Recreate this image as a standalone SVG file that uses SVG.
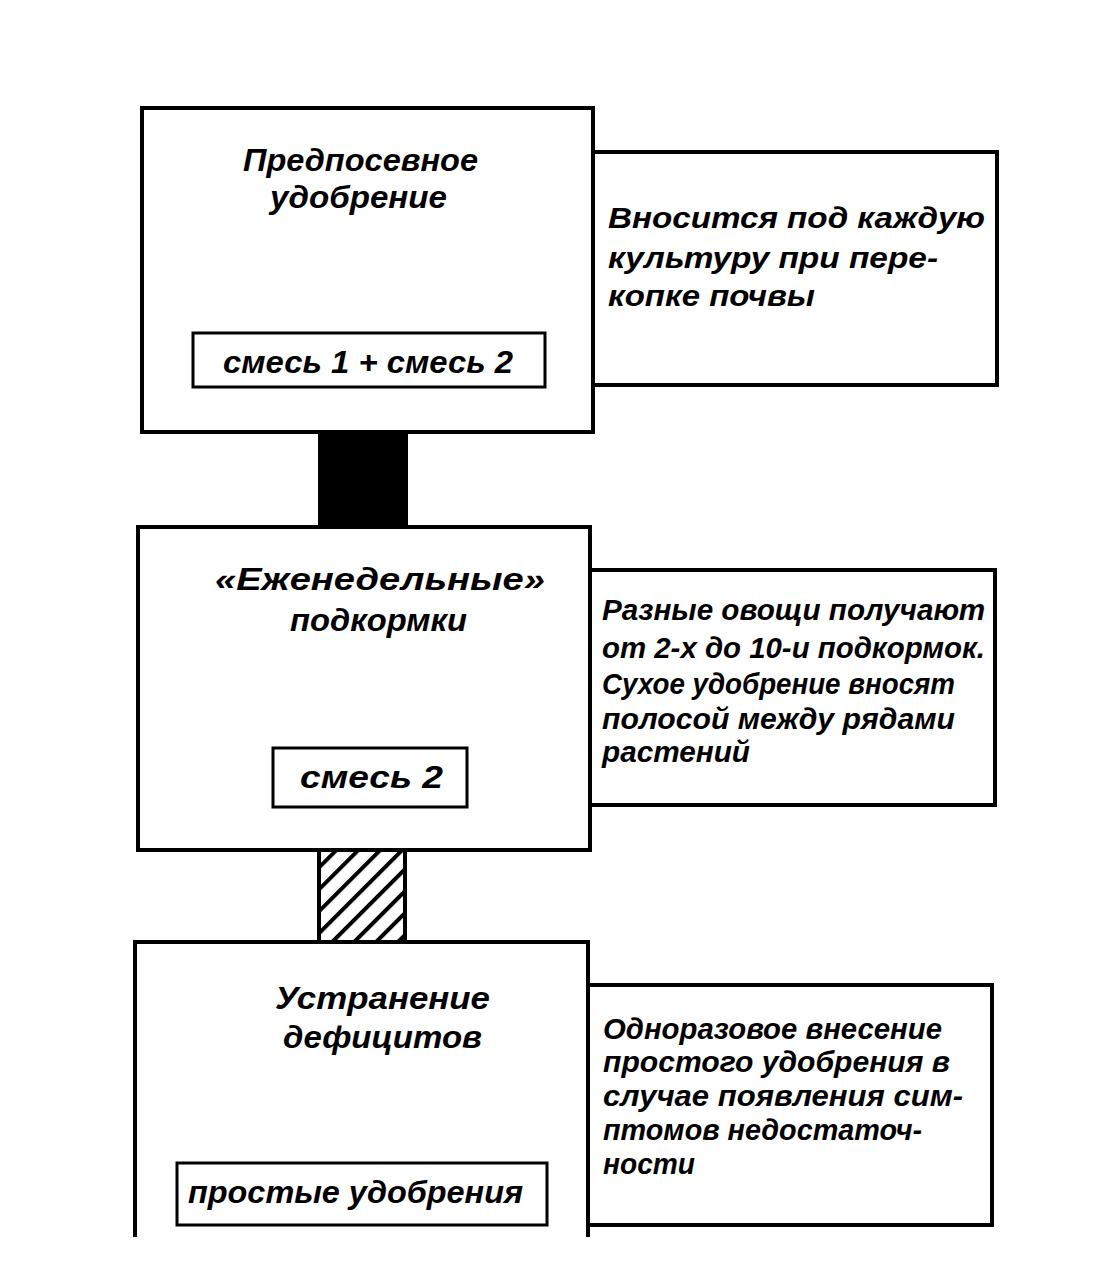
<svg xmlns="http://www.w3.org/2000/svg" width="1101" height="1284" viewBox="0 0 1101 1284">
<defs>
<style>
.box{fill:none;stroke:#000;stroke-width:4}
.inner{fill:none;stroke:#000;stroke-width:3}
.t{font-family:"Liberation Sans",Arial,sans-serif;font-style:italic;font-weight:bold;fill:#000}
.title{font-size:32px}
.note{font-size:30px}
</style>
<pattern id="hatch" patternUnits="userSpaceOnUse" width="15.5" height="15.5" patternTransform="rotate(45)">
<rect width="15.5" height="15.5" fill="#fff"/>
<rect x="0" y="0" width="4" height="15.5" fill="#000"/>
</pattern>
</defs>
<rect width="1101" height="1284" fill="#fff"/>
<g id="connectors">
<rect x="318" y="432" width="90" height="95" fill="#000"/>
<rect x="319" y="850" width="86" height="92" fill="url(#hatch)" stroke="#000" stroke-width="4"/>
</g>
<g id="node1">
<rect class="box" x="142" y="108" width="451" height="324"/>
<text class="t title" x="243" y="171" textLength="235" lengthAdjust="spacingAndGlyphs">Предпосевное</text>
<text class="t title" x="270" y="208" textLength="177" lengthAdjust="spacingAndGlyphs">удобрение</text>
<rect class="inner" x="193" y="333" width="352" height="54"/>
<text class="t title" x="223" y="373" textLength="290" lengthAdjust="spacingAndGlyphs">смесь 1 + смесь 2</text>
</g>
<g id="note1">
<rect class="box" x="593" y="152" width="404" height="233"/>
<text class="t note" x="608" y="228" textLength="377" lengthAdjust="spacingAndGlyphs">Вносится под каждую</text>
<text class="t note" x="608" y="268" textLength="330" lengthAdjust="spacingAndGlyphs">культуру при пере-</text>
<text class="t note" x="608" y="306" textLength="207" lengthAdjust="spacingAndGlyphs">копке почвы</text>
</g>
<g id="node2">
<rect class="box" x="138" y="527" width="452" height="323"/>
<text class="t title" x="215" y="590" textLength="330" lengthAdjust="spacingAndGlyphs">«Еженедельные»</text>
<text class="t title" x="290" y="631" textLength="177" lengthAdjust="spacingAndGlyphs">подкормки</text>
<rect class="inner" x="273" y="748" width="194" height="59"/>
<text class="t title" x="300" y="788" textLength="143" lengthAdjust="spacingAndGlyphs">смесь 2</text>
</g>
<g id="note2">
<rect class="box" x="590" y="570" width="405" height="235"/>
<text class="t note" x="602" y="620" textLength="383" lengthAdjust="spacingAndGlyphs">Разные овощи получают</text>
<text class="t note" x="602" y="658" textLength="383" lengthAdjust="spacingAndGlyphs">от 2-х до 10-и подкормок.</text>
<text class="t note" x="602" y="694" textLength="353" lengthAdjust="spacingAndGlyphs">Сухое удобрение вносят</text>
<text class="t note" x="602" y="729" textLength="353" lengthAdjust="spacingAndGlyphs">полосой между рядами</text>
<text class="t note" x="602" y="762" textLength="148" lengthAdjust="spacingAndGlyphs">растений</text>
</g>
<g id="node3">
<path class="box" d="M135,1237 V942 H588 V1237"/>
<text class="t title" x="275" y="1009" textLength="215" lengthAdjust="spacingAndGlyphs">Устранение</text>
<text class="t title" x="283" y="1048" textLength="199" lengthAdjust="spacingAndGlyphs">дефицитов</text>
<rect class="inner" x="177" y="1163" width="370" height="62"/>
<text class="t title" x="188" y="1203" textLength="335" lengthAdjust="spacingAndGlyphs">простые удобрения</text>
</g>
<g id="note3">
<rect class="box" x="588" y="985" width="404" height="240"/>
<text class="t note" x="603" y="1039" textLength="339" lengthAdjust="spacingAndGlyphs">Одноразовое внесение</text>
<text class="t note" x="603" y="1072" textLength="347" lengthAdjust="spacingAndGlyphs">простого удобрения в</text>
<text class="t note" x="603" y="1106" textLength="360" lengthAdjust="spacingAndGlyphs">случае появления сим-</text>
<text class="t note" x="603" y="1140" textLength="319" lengthAdjust="spacingAndGlyphs">птомов недостаточ-</text>
<text class="t note" x="603" y="1174" textLength="92" lengthAdjust="spacingAndGlyphs">ности</text>
</g>
</svg>
